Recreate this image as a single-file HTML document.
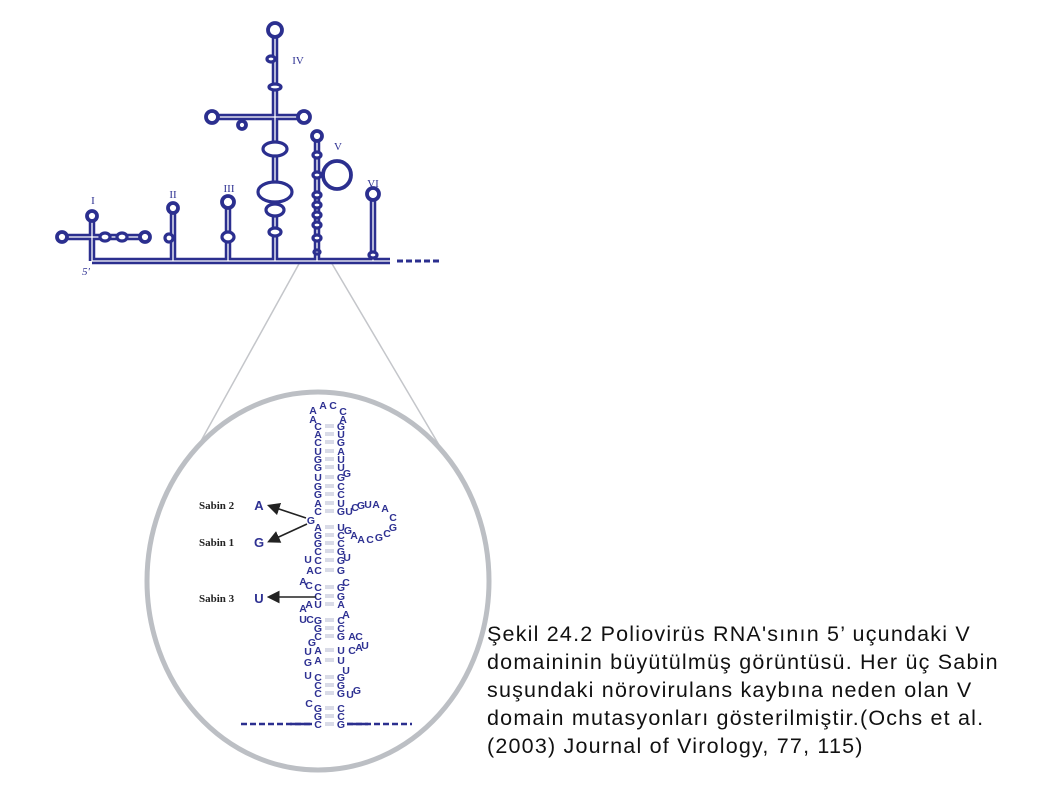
<!DOCTYPE html>
<html><head><meta charset="utf-8"><style>
body{margin:0;background:#fff;width:1058px;height:794px;overflow:hidden;position:relative}
svg{position:absolute;left:0;top:0}
.cap{position:absolute;left:487px;top:620px;font:21.5px/28px "Liberation Sans",sans-serif;letter-spacing:1.2px;color:#111;white-space:nowrap}
</style></head><body>
<svg width="1058" height="794" id="fig">
<g stroke="#c4c6ca" stroke-width="1.5">
<line x1="300" y1="262" x2="196" y2="450"/><line x1="331" y1="262" x2="442" y2="450"/></g>
<ellipse cx="318" cy="581" rx="171" ry="189" fill="none" stroke="#bcbfc4" stroke-width="5"/>
<g id="topg" fill="none"></g>
<g id="seq" font-family="Liberation Sans, sans-serif" font-weight="bold" font-size="10.5" fill="#2e3192" text-anchor="middle"></g>
<g font-family="Liberation Serif, serif" font-size="11" fill="#2e3192" text-anchor="middle">
<text x="93" y="204">I</text><text x="173" y="198">II</text><text x="229" y="192">III</text><text x="298" y="64">IV</text><text x="338" y="150">V</text><text x="373" y="187">VI</text>
<text x="86" y="275" font-style="italic">5′</text></g>
<g font-family="Liberation Serif, serif" font-weight="bold" font-size="11" fill="#222">
<text x="199" y="509">Sabin 2</text><text x="199" y="546">Sabin 1</text><text x="199" y="602">Sabin 3</text></g>
<g font-family="Liberation Sans, sans-serif" font-weight="bold" font-size="13" fill="#2e3192" text-anchor="middle">
<text x="259" y="510">A</text><text x="259" y="547">G</text><text x="259" y="603">U</text></g>
<defs><marker id="ah" markerWidth="8" markerHeight="8" refX="6" refY="4" orient="auto"><path d="M0,0L8,4L0,8z" fill="#222"/></marker></defs>
<g stroke="#222" stroke-width="1.6" marker-end="url(#ah)">
<line x1="306" y1="518" x2="270" y2="506"/><line x1="307" y1="524" x2="270" y2="541"/><line x1="316" y1="597" x2="270" y2="597"/></g>
</svg>
<div class="cap">Şekil 24.2 Poliovirüs RNA'sının 5’ uçundaki V<br>domaininin büyütülmüş görüntüsü. Her üç Sabin<br>suşundaki nörovirulans kaybına neden olan V<br>domain mutasyonları gösterilmiştir.(Ochs et al.<br>(2003) Journal of Virology, 77, 115)</div>
<script>
const NS='http://www.w3.org/2000/svg',B='#2b2f8f';
const topG=document.getElementById('topg'),seq=document.getElementById('seq');
function mk(p,t,a){const e=document.createElementNS(NS,t);for(const k in a)e.setAttribute(k,a[k]);p.appendChild(e);return e;}
const stems=['M92,261V217','M62,237H145','M173,261V209','M228,261V204','M275,261V31','M213,117H303','M317,261V137','M373,261V195','M92,261H390'];
stems.forEach(d=>{mk(topG,'path',{d:d,stroke:B,'stroke-width':6.5});});
stems.forEach(d=>{mk(topG,'path',{d:d,stroke:'#fff','stroke-width':1.3});});
mk(topG,'path',{d:'M397,261H440',stroke:B,'stroke-width':3,'stroke-dasharray':'6 3'});
const bulges=[[105,237,5,4],[122,237,5,4],[275,149,12,7],[275,192,17,10],[275,210,9,6],[275,232,6,4],[275,87,6,3],[228,237,6,5],[317,155,4,3],[317,175,4,3],[317,195,4,3],[317,205,4,3],[317,215,4,3],[317,225,4,3],[317,238,4,3],[317,252,3,2],[373,255,4,3],[169,238,4,4],[271,59,4,3]];
const circles=[[92,216,5],[62,237,5],[145,237,5],[173,208,5],[228,202,6],[275,30,7],[212,117,6],[304,117,6],[242,125,4],[317,136,5],[337,175,14],[373,194,6]];
bulges.forEach(b=>{const e=mk(topG,'ellipse',{cx:b[0],cy:b[1],rx:b[2],ry:b[3],fill:'#fff',stroke:B,'stroke-width':3.2});

});
circles.forEach(c=>{const e=mk(topG,'circle',{cx:c[0],cy:c[1],r:c[2],fill:'#fff',stroke:B,'stroke-width':3.8});

});
const pairs=[['C','G',426],['A','U',434],['C','G',442],['U','A',451],['G','U',459],['G','U',467],['U','G',477],['G','C',486],['G','C',494],['A','U',503],['C','G',511],['A','U',527],['G','C',535],['G','C',543],['C','G',551],['C','G',560],['C','G',570],['C','G',587],['C','G',596],['U','A',604],['G','C',620],['G','C',628],['C','G',636],['A','U',650],['A','U',660],['C','G',677],['C','G',685],['C','G',693],['G','C',708],['G','C',716],['C','G',724]];
const singles=[['A',313,410],['A',323,405],['C',333,405],['C',343,411],['A',313,419],['A',343,419],['G',347,473],['U',349,511],['C',355,507],['G',361,505],['U',368,504],['A',376,504],['A',385,508],['C',393,517],['G',393,527],['C',387,533],['G',379,537],['C',370,539],['A',361,539],['A',354,535],['G',348,530],['G',311,520],['U',308,559],['U',347,557],['A',310,570],['C',346,582],['A',303,581],['C',309,585],['A',303,608],['A',309,604],['U',303,619],['C',310,619],['A',346,614],['A',352,636],['C',359,636],['G',312,642],['U',308,651],['C',352,650],['A',359,647],['U',365,645],['G',308,662],['U',308,675],['U',346,670],['U',350,694],['G',357,690],['C',309,703]];
pairs.forEach(p=>{
 const t1=mk(seq,'text',{x:318,y:p[2]+4});t1.textContent=p[0];
 
 
 const t2=mk(seq,'text',{x:341,y:p[2]+4});t2.textContent=p[1];
 
 
 mk(seq,'path',{d:`M325,${p[2]-1}h9M325,${p[2]+1}h9`,stroke:'#9aa0c0','stroke-width':0.8});
});
singles.forEach(s=>{const t=mk(seq,'text',{x:s[1],y:s[2]+4});t.textContent=s[0];
 
 });
mk(seq,'path',{d:'M241,724H312M347,724H412',stroke:B,'stroke-width':2.5,'stroke-dasharray':'6 3'});
mk(seq,'path',{d:'M290,724H312M347,724H368',stroke:B,'stroke-width':2.5});
</script>
</body></html>
